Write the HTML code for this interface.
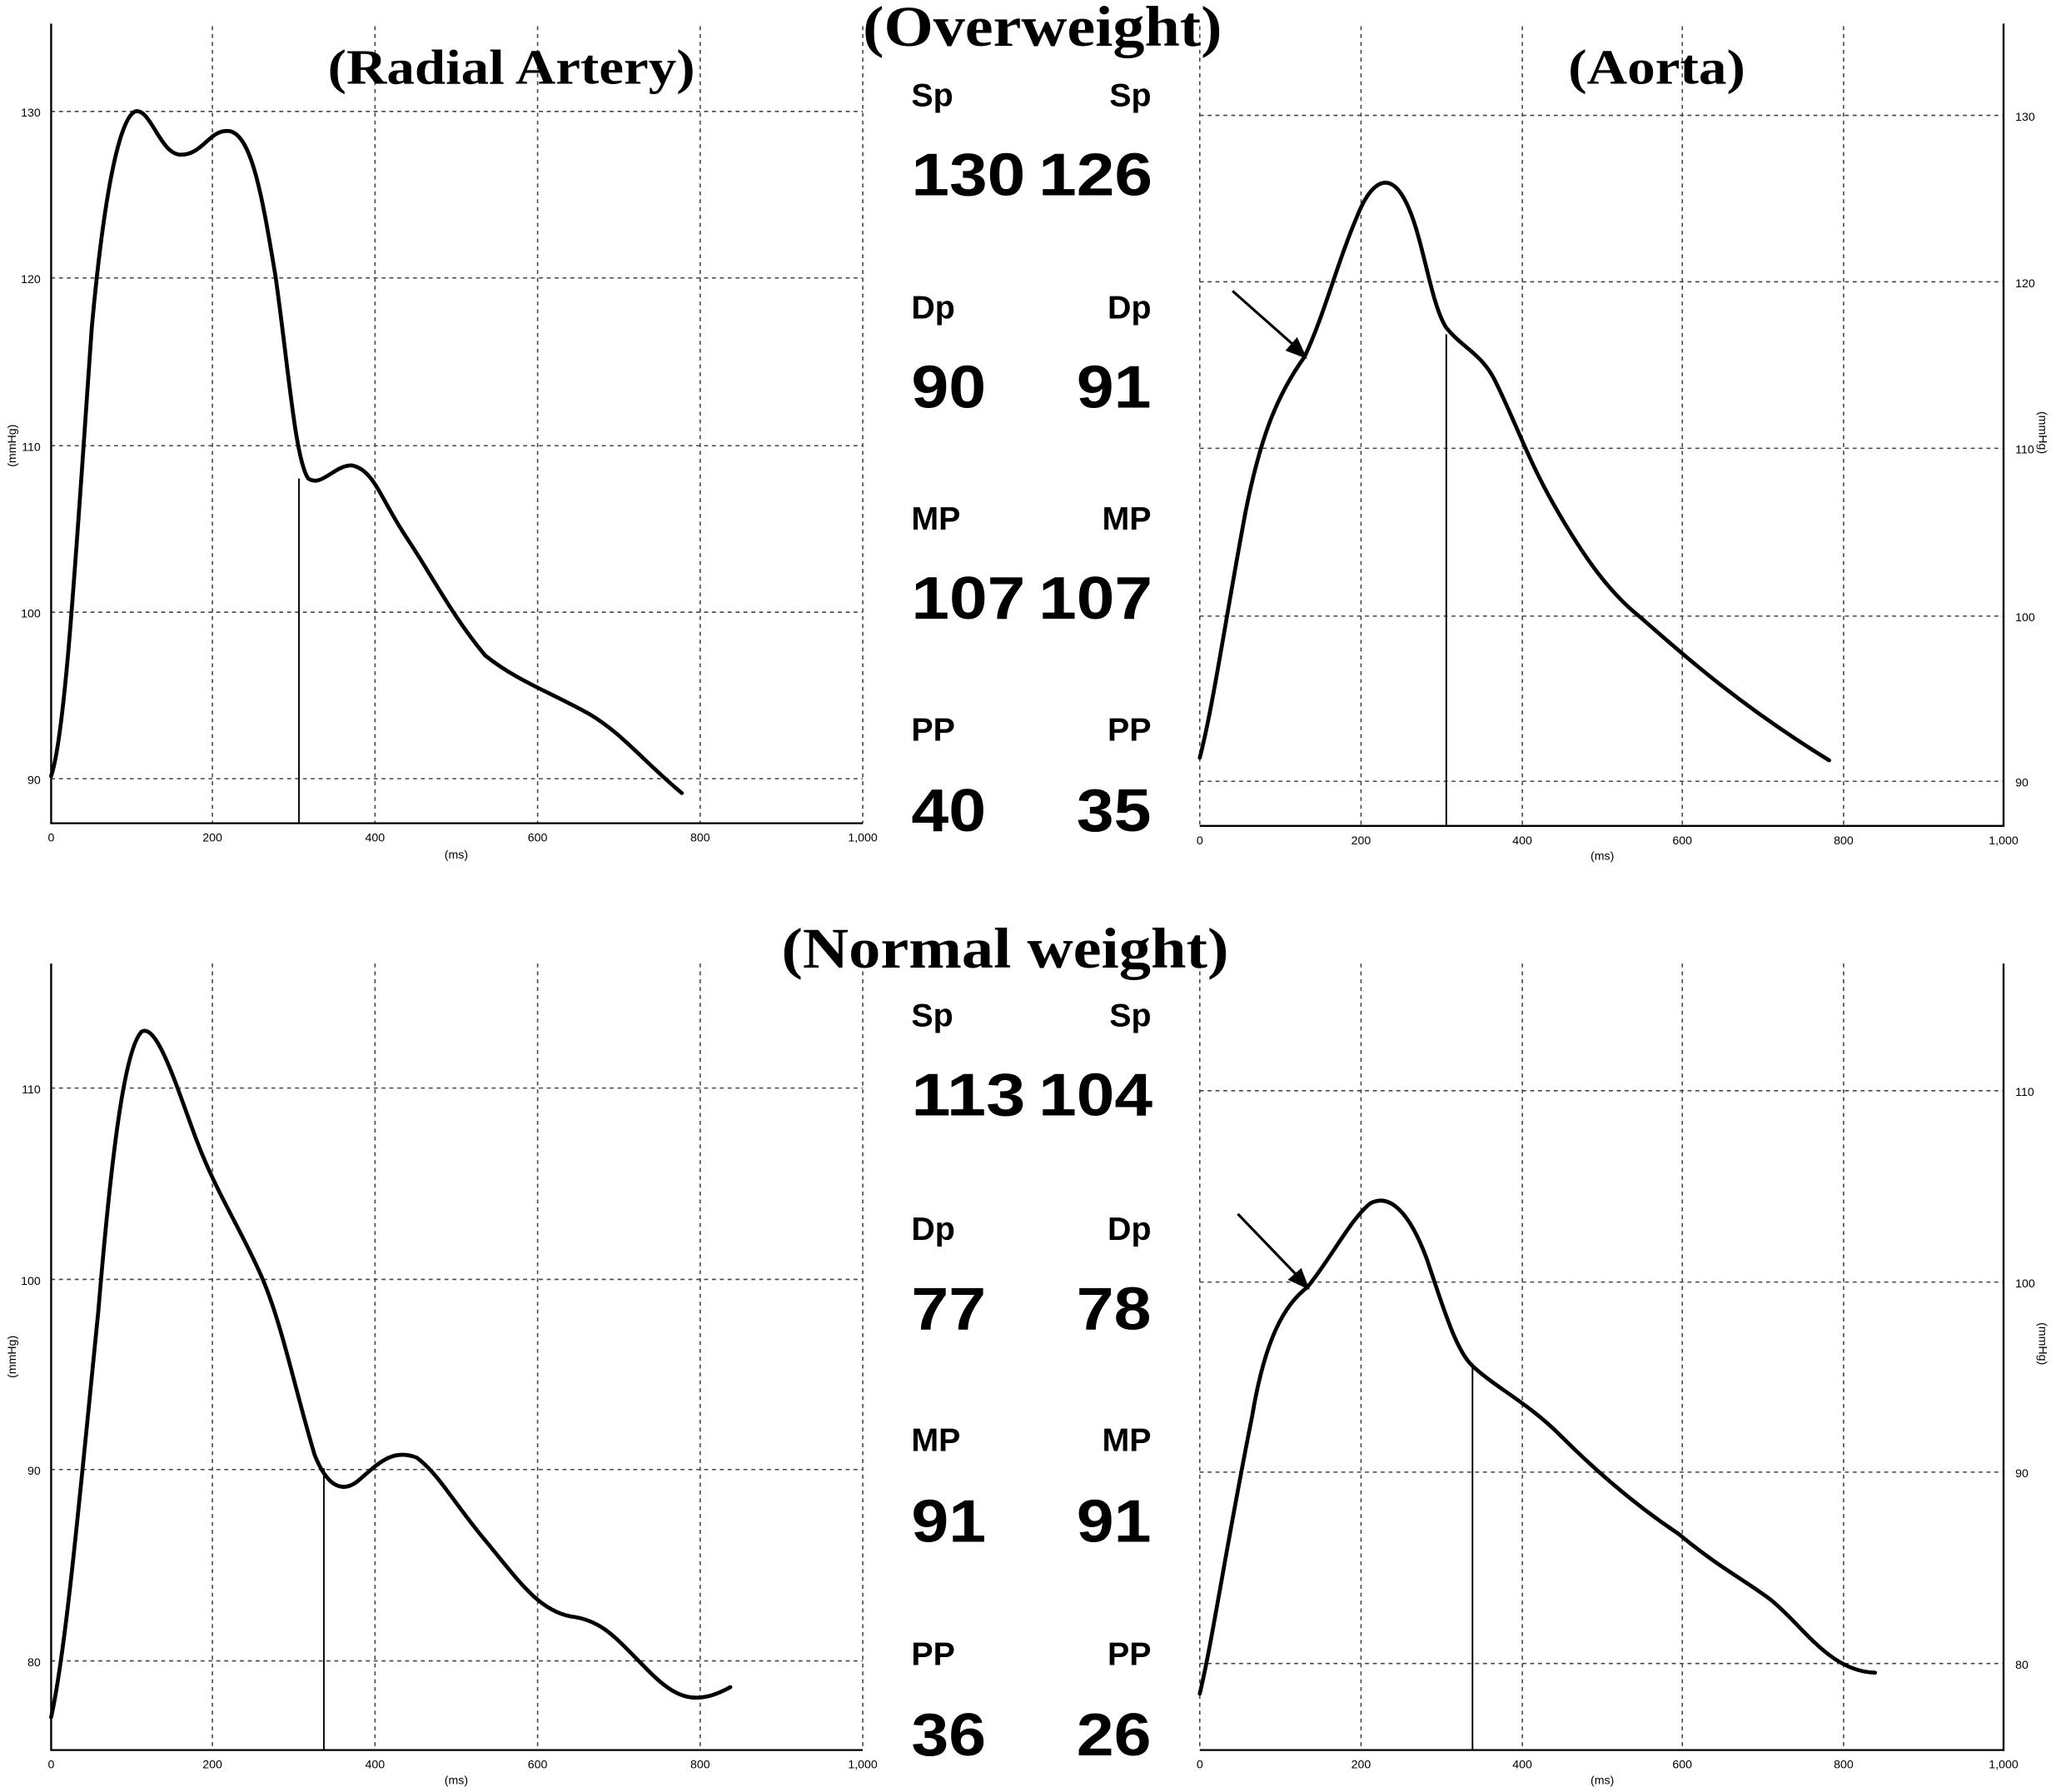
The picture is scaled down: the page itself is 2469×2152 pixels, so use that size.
<!DOCTYPE html>
<html><head><meta charset="utf-8"><style>
html,body{margin:0;padding:0;background:#fff;}
svg{display:block;}
</style></head><body>
<svg width="2469" height="2152" viewBox="0 0 1568 1367" xmlns="http://www.w3.org/2000/svg" preserveAspectRatio="none">
<rect width="1568" height="1367" fill="#fff"/>
<g stroke="#444" stroke-width="1" stroke-dasharray="3,3" fill="none">
  <path d="M162 20V628M286 20V628M410 20V628M534 20V628M658 20V628"/>
  <path d="M39 85H658M39 212H658M39 340H658M39 467H658M39 594H658"/>
  <path d="M1038 20V630M1161 20V630M1283 20V630M1406 20V630M915 20V630"/>
  <path d="M915 88H1528M915 215H1528M915 342H1528M915 470H1528M915 596H1528"/>
  <path d="M162 735V1335M286 735V1335M410 735V1335M534 735V1335M658 735V1335"/>
  <path d="M39 830H658M39 976H658M39 1121H658M39 1267H658"/>
  <path d="M1038 735V1335M1161 735V1335M1283 735V1335M1406 735V1335M915 735V1335"/>
  <path d="M915 832H1528M915 978H1528M915 1123H1528M915 1269H1528"/>
</g>
<g stroke="#000" stroke-width="1.5" fill="none">
  <path d="M39 18V628H658"/>
  <path d="M1528 18V630H915"/>
  <path d="M39 735V1335H658"/>
  <path d="M1528 735V1335H915"/>
  <path d="M228 365V628M1103 255V630M247 1120V1335M1123 1040V1335" stroke-width="1.2"/>
</g>
<g stroke="#000" stroke-width="3" fill="none" stroke-linejoin="round" stroke-linecap="round">
  <path d="M39 592 C50 560 58 420 70 250 C80 140 92 90 103 85 C115 82 122 118 138 118 C155 118 160 98 175 100 C192 103 200 150 210 210 C220 280 225 350 235 365 C245 372 255 355 268 355 C285 358 290 380 310 410 C330 440 345 470 370 500 C395 520 420 528 450 545 C475 560 490 580 520 605"/>
  <path d="M915 578 C925 540 935 470 950 390 C962 330 975 300 995 272 C1010 240 1020 200 1035 165 C1045 140 1058 130 1070 150 C1085 175 1090 230 1103 250 C1115 265 1130 270 1140 290 C1155 320 1165 350 1185 385 C1205 420 1225 450 1250 470 C1290 505 1330 540 1395 580"/>
  <path d="M39 1310 C50 1260 60 1150 75 1000 C85 880 95 800 108 787 C120 780 135 830 150 870 C165 910 185 940 200 975 C215 1010 225 1060 240 1110 C250 1135 262 1140 275 1128 C290 1115 300 1105 318 1112 C335 1125 345 1145 370 1175 C395 1205 410 1228 435 1233 C460 1236 470 1250 495 1275 C515 1295 530 1302 557 1287"/>
  <path d="M915 1292 C925 1250 935 1180 955 1080 C965 1020 980 995 997 982 C1015 960 1030 930 1045 918 C1060 910 1075 925 1088 960 C1100 995 1110 1030 1123 1042 C1140 1058 1165 1070 1190 1095 C1220 1125 1250 1150 1280 1170 C1310 1195 1330 1205 1350 1220 C1375 1240 1395 1275 1430 1276"/>
</g>
<g stroke="#000" stroke-width="2" fill="#000">
  <path d="M940 222 L992 268" fill="none"/><path d="M995 272 L982 267 L989 259 Z"/>
  <path d="M944 926 L994 978" fill="none"/><path d="M997 982 L984 976 L992 969 Z"/>
</g>
<g font-family="Liberation Sans, sans-serif" font-size="9" fill="#000">
  <g text-anchor="middle">
    <text x="39" y="642">0</text><text x="162" y="642">200</text><text x="286" y="642">400</text><text x="410" y="642">600</text><text x="534" y="642">800</text><text x="658" y="642">1,000</text>
    <text x="348" y="655">(ms)</text>
    <text x="915" y="644">0</text><text x="1038" y="644">200</text><text x="1161" y="644">400</text><text x="1283" y="644">600</text><text x="1406" y="644">800</text><text x="1528" y="644">1,000</text>
    <text x="1222" y="656">(ms)</text>
    <text x="39" y="1349">0</text><text x="162" y="1349">200</text><text x="286" y="1349">400</text><text x="410" y="1349">600</text><text x="534" y="1349">800</text><text x="658" y="1349">1,000</text>
    <text x="348" y="1361">(ms)</text>
    <text x="915" y="1349">0</text><text x="1038" y="1349">200</text><text x="1161" y="1349">400</text><text x="1283" y="1349">600</text><text x="1406" y="1349">800</text><text x="1528" y="1349">1,000</text>
    <text x="1222" y="1361">(ms)</text>
  </g>
  <g text-anchor="end">
    <text x="31" y="89">130</text><text x="31" y="216">120</text><text x="31" y="344">110</text><text x="31" y="471">100</text><text x="31" y="598">90</text>
    <text x="31" y="834">110</text><text x="31" y="980">100</text><text x="31" y="1125">90</text><text x="31" y="1271">80</text>
  </g>
  <text x="1537" y="92">130</text><text x="1537" y="219">120</text><text x="1537" y="346">110</text><text x="1537" y="474">100</text><text x="1537" y="600">90</text>
  <text x="1537" y="836">110</text><text x="1537" y="982">100</text><text x="1537" y="1127">90</text><text x="1537" y="1273">80</text>
  <text transform="translate(12,340) rotate(-90)" text-anchor="middle">(mmHg)</text>
  <text transform="translate(12,1035) rotate(-90)" text-anchor="middle">(mmHg)</text>
  <text transform="translate(1555,330) rotate(90)" text-anchor="middle">(mmHg)</text>
  <text transform="translate(1555,1025) rotate(90)" text-anchor="middle">(mmHg)</text>
</g>
<g font-family="Liberation Serif, serif" font-weight="bold" fill="#000">
  <text x="658" y="35" font-size="44" textLength="274" lengthAdjust="spacingAndGlyphs">(Overweight)</text>
  <text x="250" y="64" font-size="38" textLength="280" lengthAdjust="spacingAndGlyphs">(Radial Artery)</text>
  <text x="1196" y="64" font-size="38" textLength="135" lengthAdjust="spacingAndGlyphs">(Aorta)</text>
  <text x="596" y="738" font-size="44" textLength="341" lengthAdjust="spacingAndGlyphs">(Normal weight)</text>
</g>
<g font-family="Liberation Sans, sans-serif" font-weight="bold" fill="#000">
  <g font-size="25">
    <text x="695" y="81">Sp</text><text x="878" y="81" text-anchor="end">Sp</text>
    <text x="695" y="243">Dp</text><text x="878" y="243" text-anchor="end">Dp</text>
    <text x="695" y="404">MP</text><text x="878" y="404" text-anchor="end">MP</text>
    <text x="695" y="565">PP</text><text x="878" y="565" text-anchor="end">PP</text>
    <text x="695" y="783">Sp</text><text x="878" y="783" text-anchor="end">Sp</text>
    <text x="695" y="946">Dp</text><text x="878" y="946" text-anchor="end">Dp</text>
    <text x="695" y="1107">MP</text><text x="878" y="1107" text-anchor="end">MP</text>
    <text x="695" y="1270">PP</text><text x="878" y="1270" text-anchor="end">PP</text>
  </g>
  <g font-size="46" lengthAdjust="spacingAndGlyphs">
    <text x="695" y="149" textLength="87" lengthAdjust="spacingAndGlyphs">130</text><text x="792" y="149" textLength="87" lengthAdjust="spacingAndGlyphs">126</text>
    <text x="695" y="311" textLength="57" lengthAdjust="spacingAndGlyphs">90</text><text x="821" y="311" textLength="57" lengthAdjust="spacingAndGlyphs">91</text>
    <text x="695" y="472" textLength="87" lengthAdjust="spacingAndGlyphs">107</text><text x="792" y="472" textLength="87" lengthAdjust="spacingAndGlyphs">107</text>
    <text x="695" y="634" textLength="57" lengthAdjust="spacingAndGlyphs">40</text><text x="821" y="634" textLength="57" lengthAdjust="spacingAndGlyphs">35</text>
    <text x="695" y="851" textLength="87" lengthAdjust="spacingAndGlyphs">113</text><text x="792" y="851" textLength="87" lengthAdjust="spacingAndGlyphs">104</text>
    <text x="695" y="1014" textLength="57" lengthAdjust="spacingAndGlyphs">77</text><text x="821" y="1014" textLength="57" lengthAdjust="spacingAndGlyphs">78</text>
    <text x="695" y="1176" textLength="57" lengthAdjust="spacingAndGlyphs">91</text><text x="821" y="1176" textLength="57" lengthAdjust="spacingAndGlyphs">91</text>
    <text x="695" y="1339" textLength="57" lengthAdjust="spacingAndGlyphs">36</text><text x="821" y="1339" textLength="57" lengthAdjust="spacingAndGlyphs">26</text>
  </g>
</g>
</svg>
</body></html>
